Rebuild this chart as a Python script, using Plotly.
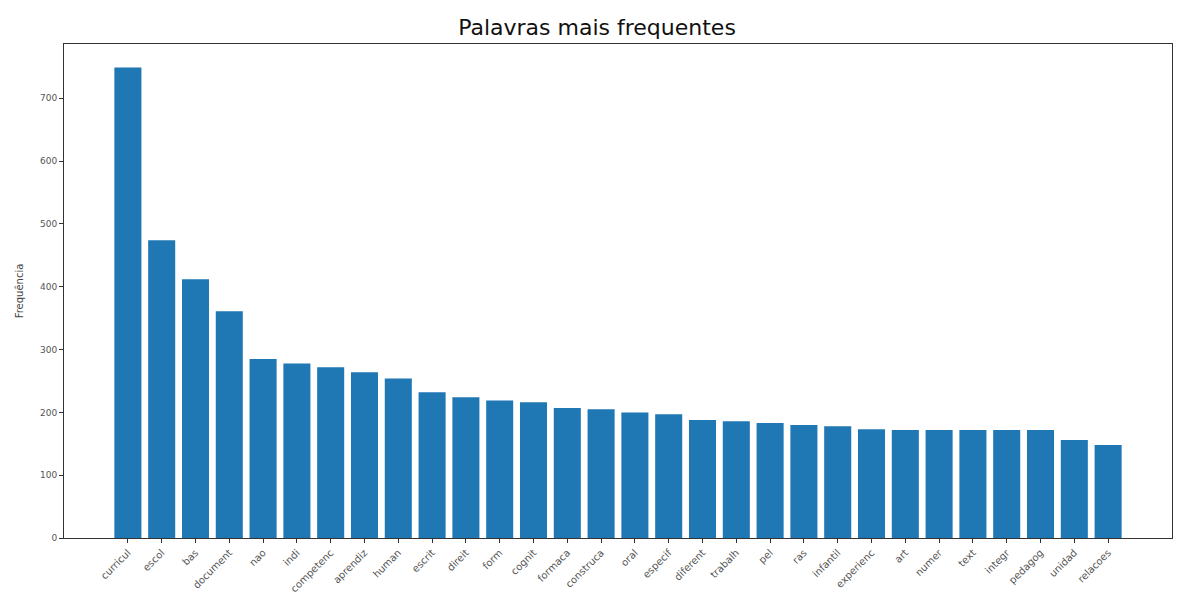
import plotly.graph_objects as go

palavras = ["curricul", "escol", "bas", "document", "nao", "indi", "competenc",
            "aprendiz", "human", "escrit", "direit", "form", "cognit", "formaca",
            "construca", "oral", "especif", "diferent", "trabalh", "pel", "ras",
            "infantil", "experienc", "art", "numer", "text", "integr", "pedagog",
            "unidad", "relacoes"]
frequencias = [749, 474, 412, 361, 285, 278, 272, 264, 254, 232, 224, 219, 216,
               207, 205, 200, 197, 188, 186, 183, 180, 178, 173, 172, 172, 172,
               172, 172, 156, 148]

font = "DejaVu Sans"
W, H = 1178, 590  # page body has an 8px margin
fig = go.Figure(go.Bar(x=list(range(len(palavras))), y=frequencias,
                       marker=dict(color="#1f77b4", line=dict(width=0)),
                       width=0.8))

fig.update_layout(
    width=W, height=H,
    margin=dict(l=56, r=14, t=36, b=60),
    paper_bgcolor="white", plot_bgcolor="white",
    font=dict(family=font, color="#222"),
    title=dict(text="Palavras mais frequentes", x=0.5, xanchor="center",
               y=1 - 19 / H, yanchor="middle",
               font=dict(size=22, family=font, color="#111")),
    showlegend=False,
)
fig.update_xaxes(
    tickmode="array", tickvals=list(range(len(palavras))), ticktext=palavras,
    tickangle=-45, range=[-1.89, 30.89], automargin=False,
    showline=True, linecolor="#333", linewidth=1, mirror=True,
    ticks="outside", ticklen=4, tickcolor="#333",
    showgrid=False, zeroline=False,
    tickfont=dict(size=10, family=font, color="#555"),
)
fig.update_yaxes(
    range=[0, 786.5], tickvals=[0, 100, 200, 300, 400, 500, 600, 700],
    automargin=False,
    showline=True, linecolor="#333", linewidth=1, mirror=True,
    ticks="outside", ticklen=4, tickcolor="#333",
    showgrid=False, zeroline=False,
    tickfont=dict(size=9, family=font, color="#555"),
    title=dict(text="Frequência", font=dict(size=10, family=font, color="#444"),
               standoff=14),
)

fig.write_html("out.html")
